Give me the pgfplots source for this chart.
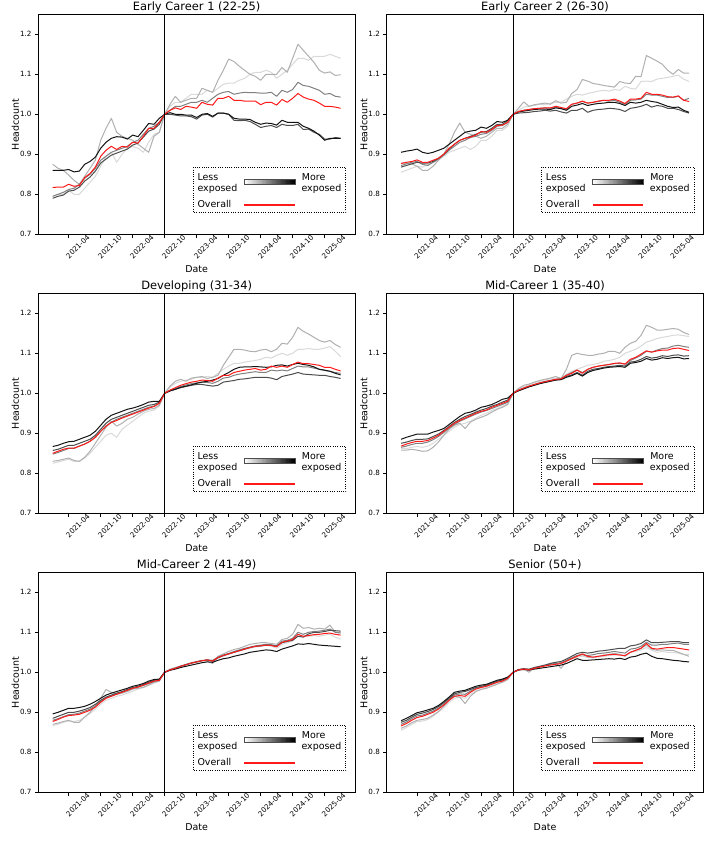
\documentclass[border=0pt]{standalone}
\usepackage{pgfplots}
\usepackage{pgfplotstable}
\pgfplotsset{compat=1.18}
\usepackage{fontspec}
\setmainfont{DejaVu Sans}
\definecolor{qa}{HTML}{D9D9D9}
\definecolor{qb}{HTML}{B0B0B0}
\definecolor{qc}{HTML}{808080}
\definecolor{qd}{HTML}{4D4D4D}
\definecolor{qe}{HTML}{141414}
\definecolor{ov}{HTML}{FF1A1A}

\pgfplotstableread{
i a b c d e r
0 0.795 0.875 0.795 0.790 0.860 0.817
1 0.800 0.865 0.800 0.795 0.860 0.818
2 0.800 0.860 0.805 0.798 0.860 0.818
3 0.810 0.848 0.812 0.808 0.862 0.825
4 0.800 0.835 0.815 0.810 0.856 0.820
5 0.800 0.825 0.825 0.818 0.858 0.822
6 0.815 0.845 0.840 0.833 0.875 0.842
7 0.830 0.865 0.850 0.843 0.882 0.852
8 0.845 0.885 0.865 0.858 0.893 0.868
9 0.870 0.935 0.885 0.878 0.915 0.895
10 0.895 0.965 0.895 0.888 0.930 0.910
11 0.905 0.990 0.905 0.898 0.940 0.920
12 0.880 0.955 0.910 0.903 0.944 0.912
13 0.900 0.945 0.915 0.908 0.943 0.920
14 0.915 0.940 0.920 0.913 0.938 0.918
15 0.920 0.935 0.930 0.923 0.948 0.930
16 0.915 0.925 0.935 0.928 0.944 0.928
17 0.905 0.915 0.950 0.943 0.960 0.945
18 0.930 0.905 0.965 0.958 0.977 0.965
19 0.950 0.945 0.970 0.963 0.975 0.965
20 0.955 0.955 0.980 0.975 0.990 0.980
21 1 1 1 1 1 1
22 1.020 1.025 1.010 1.000 1.004 1.010
23 1.030 1.045 1.020 0.998 1.000 1.016
24 1.030 1.030 1.020 0.996 1.000 1.012
25 1.040 1.035 1.025 0.996 0.998 1.020
26 1.050 1.040 1.030 0.994 0.998 1.018
27 1.050 1.040 1.030 0.988 0.992 1.015
28 1.050 1.065 1.035 0.998 1.000 1.030
29 1.060 1.060 1.030 1.000 1.002 1.025
30 1.055 1.055 1.040 0.993 0.995 1.023
31 1.065 1.085 1.050 1.003 1.003 1.040
32 1.075 1.110 1.055 1.003 1.003 1.040
33 1.078 1.138 1.057 1.000 1.000 1.045
34 1.078 1.132 1.050 0.985 0.990 1.035
35 1.085 1.120 1.053 0.984 0.988 1.035
36 1.090 1.110 1.055 0.985 0.988 1.033
37 1.100 1.100 1.054 0.982 0.987 1.033
38 1.105 1.095 1.054 0.975 0.980 1.033
39 1.105 1.085 1.053 0.967 0.975 1.024
40 1.110 1.100 1.053 0.970 0.978 1.030
41 1.105 1.100 1.055 0.972 0.977 1.030
42 1.090 1.100 1.045 0.967 0.973 1.023
43 1.100 1.117 1.060 0.975 0.985 1.037
44 1.110 1.105 1.055 0.972 0.980 1.030
45 1.125 1.140 1.062 0.972 0.980 1.040
46 1.140 1.175 1.080 0.975 0.980 1.052
47 1.140 1.160 1.072 0.962 0.970 1.043
48 1.135 1.145 1.070 0.963 0.965 1.038
49 1.145 1.130 1.065 0.955 0.958 1.035
50 1.145 1.110 1.060 0.950 0.948 1.028
51 1.145 1.103 1.050 0.938 0.935 1.020
52 1.150 1.106 1.052 0.938 0.940 1.020
53 1.145 1.097 1.045 0.942 0.940 1.018
54 1.140 1.099 1.043 0.940 0.940 1.015
}\tA

\pgfplotstableread{
i a b c d e r
0 0.855 0.878 0.872 0.868 0.905 0.877
1 0.860 0.878 0.876 0.872 0.908 0.880
2 0.865 0.876 0.880 0.876 0.910 0.882
3 0.870 0.870 0.882 0.880 0.913 0.886
4 0.868 0.860 0.875 0.878 0.905 0.880
5 0.875 0.860 0.872 0.878 0.902 0.880
6 0.880 0.870 0.880 0.882 0.905 0.885
7 0.885 0.885 0.888 0.890 0.910 0.890
8 0.895 0.900 0.898 0.900 0.915 0.900
9 0.905 0.925 0.910 0.913 0.925 0.915
10 0.910 0.955 0.920 0.925 0.935 0.925
11 0.915 0.978 0.930 0.935 0.945 0.935
12 0.920 0.955 0.935 0.940 0.955 0.940
13 0.912 0.950 0.942 0.945 0.958 0.943
14 0.920 0.945 0.945 0.950 0.960 0.948
15 0.935 0.940 0.950 0.955 0.968 0.957
16 0.935 0.945 0.952 0.957 0.965 0.955
17 0.945 0.955 0.960 0.965 0.972 0.962
18 0.960 0.965 0.970 0.975 0.982 0.972
19 0.960 0.965 0.972 0.975 0.980 0.973
20 0.970 0.975 0.980 0.985 0.985 0.980
21 1 1 1 1 1 1
22 1.010 1.015 1.006 1.003 1.006 1.007
23 1.018 1.031 1.010 1.004 1.008 1.010
24 1.020 1.020 1.012 1.005 1.010 1.012
25 1.022 1.024 1.014 1.007 1.012 1.014
26 1.025 1.026 1.015 1.008 1.013 1.015
27 1.024 1.028 1.016 1.010 1.013 1.016
28 1.028 1.025 1.015 1.008 1.012 1.016
29 1.030 1.034 1.018 1.010 1.016 1.020
30 1.030 1.028 1.015 1.006 1.014 1.017
31 1.038 1.030 1.012 1.003 1.010 1.014
32 1.045 1.052 1.025 1.010 1.020 1.025
33 1.050 1.062 1.028 1.010 1.023 1.028
34 1.048 1.087 1.032 1.015 1.027 1.033
35 1.052 1.083 1.028 1.005 1.022 1.028
36 1.055 1.077 1.030 1.010 1.025 1.030
37 1.058 1.075 1.032 1.012 1.027 1.033
38 1.060 1.072 1.035 1.013 1.028 1.035
39 1.058 1.070 1.033 1.015 1.030 1.035
40 1.062 1.068 1.035 1.014 1.030 1.038
41 1.060 1.082 1.030 1.012 1.027 1.033
42 1.070 1.078 1.025 1.007 1.022 1.027
43 1.065 1.077 1.035 1.015 1.030 1.038
44 1.063 1.095 1.036 1.017 1.028 1.038
45 1.082 1.094 1.038 1.020 1.030 1.040
46 1.083 1.147 1.050 1.025 1.035 1.055
47 1.082 1.140 1.048 1.018 1.032 1.050
48 1.088 1.133 1.048 1.022 1.030 1.050
49 1.090 1.125 1.045 1.020 1.025 1.048
50 1.092 1.110 1.042 1.015 1.020 1.044
51 1.095 1.100 1.042 1.015 1.017 1.043
52 1.098 1.112 1.045 1.012 1.018 1.046
53 1.088 1.103 1.035 1.007 1.010 1.035
54 1.082 1.103 1.040 1.003 1.005 1.032
}\tB

\pgfplotstableread{
i a b c d e r
0 0.825 0.830 0.848 0.857 0.867 0.850
1 0.828 0.832 0.852 0.860 0.870 0.855
2 0.832 0.835 0.857 0.865 0.875 0.860
3 0.835 0.838 0.862 0.870 0.879 0.863
4 0.830 0.832 0.862 0.870 0.880 0.863
5 0.830 0.830 0.868 0.875 0.885 0.868
6 0.838 0.840 0.873 0.880 0.890 0.873
7 0.850 0.855 0.880 0.885 0.895 0.880
8 0.865 0.875 0.890 0.895 0.905 0.890
9 0.880 0.895 0.905 0.910 0.920 0.905
10 0.895 0.915 0.918 0.925 0.935 0.918
11 0.900 0.930 0.928 0.935 0.945 0.927
12 0.890 0.918 0.935 0.940 0.950 0.932
13 0.910 0.925 0.940 0.945 0.955 0.938
14 0.920 0.935 0.945 0.950 0.960 0.943
15 0.930 0.940 0.950 0.955 0.963 0.948
16 0.940 0.948 0.955 0.960 0.967 0.953
17 0.950 0.955 0.960 0.965 0.972 0.958
18 0.955 0.960 0.965 0.970 0.978 0.963
19 0.958 0.962 0.968 0.972 0.980 0.967
20 0.968 0.970 0.975 0.978 0.980 0.975
21 1 1 1 1 1 1
22 1.015 1.018 1.007 1.006 1.006 1.008
23 1.025 1.030 1.012 1.010 1.010 1.014
24 1.030 1.035 1.017 1.014 1.015 1.020
25 1.033 1.030 1.021 1.017 1.018 1.024
26 1.035 1.038 1.024 1.020 1.021 1.028
27 1.040 1.040 1.026 1.022 1.025 1.030
28 1.040 1.042 1.028 1.022 1.028 1.033
29 1.042 1.037 1.027 1.020 1.030 1.032
30 1.040 1.040 1.025 1.018 1.033 1.030
31 1.050 1.045 1.030 1.020 1.037 1.038
32 1.060 1.070 1.038 1.028 1.045 1.045
33 1.068 1.090 1.040 1.030 1.052 1.045
34 1.075 1.110 1.045 1.032 1.060 1.052
35 1.075 1.110 1.048 1.035 1.065 1.055
36 1.078 1.108 1.050 1.036 1.066 1.058
37 1.080 1.105 1.052 1.038 1.066 1.060
38 1.082 1.104 1.054 1.040 1.067 1.062
39 1.085 1.108 1.052 1.040 1.066 1.058
40 1.090 1.110 1.052 1.040 1.065 1.060
41 1.088 1.104 1.058 1.038 1.066 1.068
42 1.095 1.110 1.056 1.034 1.070 1.065
43 1.100 1.125 1.058 1.042 1.071 1.068
44 1.095 1.123 1.056 1.045 1.068 1.065
45 1.100 1.140 1.062 1.048 1.072 1.072
46 1.110 1.165 1.068 1.052 1.075 1.078
47 1.110 1.155 1.066 1.048 1.072 1.074
48 1.112 1.148 1.066 1.047 1.070 1.074
49 1.110 1.140 1.063 1.046 1.066 1.072
50 1.110 1.132 1.060 1.045 1.060 1.070
51 1.113 1.128 1.057 1.045 1.058 1.065
52 1.117 1.132 1.055 1.042 1.055 1.065
53 1.105 1.122 1.052 1.040 1.050 1.060
54 1.092 1.115 1.050 1.037 1.046 1.056
}\tC

\pgfplotstableread{
i a b c d e r
0 0.862 0.858 0.865 0.875 0.885 0.868
1 0.862 0.858 0.868 0.878 0.890 0.873
2 0.865 0.860 0.872 0.882 0.894 0.877
3 0.867 0.858 0.875 0.885 0.898 0.880
4 0.865 0.855 0.875 0.885 0.898 0.880
5 0.868 0.856 0.878 0.886 0.898 0.882
6 0.875 0.865 0.884 0.892 0.903 0.888
7 0.885 0.878 0.892 0.898 0.907 0.895
8 0.895 0.895 0.902 0.907 0.912 0.905
9 0.905 0.910 0.913 0.917 0.922 0.915
10 0.915 0.920 0.922 0.927 0.932 0.925
11 0.922 0.925 0.930 0.935 0.942 0.932
12 0.925 0.912 0.936 0.942 0.950 0.938
13 0.930 0.928 0.942 0.947 0.953 0.944
14 0.938 0.935 0.948 0.953 0.958 0.950
15 0.945 0.940 0.953 0.958 0.965 0.955
16 0.950 0.945 0.957 0.962 0.968 0.958
17 0.957 0.953 0.962 0.968 0.972 0.965
18 0.962 0.960 0.967 0.972 0.978 0.970
19 0.967 0.965 0.972 0.978 0.985 0.975
20 0.975 0.972 0.978 0.983 0.988 0.980
21 1 1 1 1 1 1
22 1.010 1.012 1.008 1.007 1.006 1.008
23 1.017 1.020 1.013 1.012 1.011 1.013
24 1.022 1.023 1.018 1.017 1.016 1.018
25 1.026 1.028 1.022 1.021 1.020 1.022
26 1.030 1.032 1.026 1.025 1.024 1.026
27 1.034 1.035 1.030 1.028 1.027 1.029
28 1.036 1.038 1.032 1.031 1.030 1.032
29 1.038 1.042 1.035 1.034 1.033 1.035
30 1.038 1.037 1.036 1.035 1.034 1.036
31 1.048 1.060 1.045 1.042 1.040 1.045
32 1.055 1.095 1.052 1.046 1.044 1.050
33 1.060 1.100 1.058 1.052 1.050 1.058
34 1.065 1.097 1.052 1.045 1.043 1.050
35 1.070 1.095 1.060 1.055 1.052 1.060
36 1.072 1.095 1.065 1.060 1.057 1.065
37 1.075 1.098 1.068 1.062 1.060 1.068
38 1.080 1.100 1.070 1.065 1.063 1.070
39 1.082 1.105 1.072 1.067 1.065 1.072
40 1.085 1.105 1.074 1.068 1.066 1.075
41 1.090 1.100 1.075 1.070 1.067 1.076
42 1.100 1.115 1.073 1.068 1.065 1.073
43 1.105 1.125 1.082 1.078 1.075 1.085
44 1.110 1.130 1.088 1.080 1.077 1.090
45 1.118 1.145 1.095 1.085 1.080 1.098
46 1.128 1.170 1.105 1.092 1.087 1.106
47 1.132 1.165 1.103 1.088 1.083 1.103
48 1.137 1.158 1.108 1.090 1.085 1.106
49 1.140 1.158 1.112 1.094 1.089 1.108
50 1.142 1.160 1.113 1.092 1.087 1.108
51 1.145 1.162 1.118 1.095 1.089 1.112
52 1.146 1.160 1.120 1.096 1.090 1.113
53 1.144 1.152 1.117 1.093 1.086 1.110
54 1.142 1.147 1.115 1.094 1.087 1.107
}\tD

\pgfplotstableread{
i a b c d e r
0 0.867 0.870 0.880 0.885 0.896 0.877
1 0.870 0.873 0.884 0.890 0.900 0.882
2 0.875 0.877 0.889 0.895 0.905 0.888
3 0.878 0.880 0.894 0.900 0.910 0.892
4 0.877 0.875 0.895 0.900 0.910 0.893
5 0.880 0.875 0.898 0.903 0.912 0.895
6 0.888 0.888 0.903 0.907 0.915 0.900
7 0.897 0.900 0.908 0.912 0.920 0.905
8 0.908 0.915 0.916 0.920 0.927 0.913
9 0.920 0.935 0.927 0.930 0.935 0.925
10 0.930 0.957 0.936 0.938 0.943 0.935
11 0.935 0.950 0.941 0.943 0.948 0.940
12 0.940 0.945 0.946 0.948 0.952 0.945
13 0.943 0.948 0.950 0.952 0.956 0.950
14 0.948 0.952 0.955 0.957 0.960 0.955
15 0.953 0.958 0.960 0.962 0.965 0.960
16 0.958 0.960 0.963 0.965 0.968 0.963
17 0.963 0.962 0.967 0.970 0.972 0.968
18 0.968 0.968 0.972 0.975 0.978 0.973
19 0.973 0.975 0.977 0.980 0.982 0.978
20 0.978 0.978 0.980 0.982 0.983 0.980
21 1 1 1 1 1 1
22 1.007 1.008 1.006 1.006 1.005 1.006
23 1.011 1.012 1.010 1.010 1.008 1.010
24 1.015 1.016 1.015 1.015 1.012 1.015
25 1.019 1.020 1.019 1.019 1.015 1.019
26 1.022 1.024 1.023 1.023 1.018 1.023
27 1.025 1.027 1.026 1.026 1.021 1.026
28 1.028 1.030 1.029 1.029 1.024 1.029
29 1.030 1.028 1.031 1.031 1.026 1.031
30 1.027 1.022 1.030 1.028 1.025 1.028
31 1.036 1.040 1.038 1.036 1.030 1.037
32 1.040 1.046 1.043 1.042 1.034 1.042
33 1.045 1.052 1.047 1.046 1.036 1.046
34 1.050 1.057 1.052 1.050 1.040 1.050
35 1.053 1.060 1.056 1.054 1.043 1.054
36 1.057 1.065 1.060 1.058 1.046 1.058
37 1.060 1.070 1.063 1.062 1.050 1.062
38 1.063 1.072 1.066 1.065 1.052 1.065
39 1.065 1.074 1.068 1.066 1.054 1.066
40 1.067 1.074 1.070 1.068 1.056 1.068
41 1.066 1.072 1.069 1.067 1.055 1.067
42 1.060 1.070 1.066 1.065 1.052 1.064
43 1.070 1.082 1.078 1.074 1.058 1.075
44 1.074 1.085 1.080 1.077 1.062 1.078
45 1.078 1.095 1.085 1.080 1.066 1.082
46 1.092 1.120 1.100 1.090 1.071 1.095
47 1.088 1.110 1.095 1.088 1.070 1.090
48 1.090 1.112 1.100 1.096 1.072 1.092
49 1.092 1.108 1.102 1.100 1.070 1.094
50 1.090 1.110 1.103 1.100 1.068 1.095
51 1.093 1.108 1.105 1.102 1.067 1.097
52 1.095 1.118 1.108 1.105 1.066 1.098
53 1.088 1.100 1.100 1.104 1.065 1.095
54 1.083 1.100 1.098 1.103 1.064 1.093
}\tE

\pgfplotstableread{
i a b c d e r
0 0.855 0.860 0.870 0.875 0.879 0.866
1 0.862 0.866 0.876 0.880 0.885 0.872
2 0.870 0.874 0.884 0.888 0.892 0.880
3 0.877 0.880 0.891 0.895 0.899 0.887
4 0.878 0.882 0.893 0.898 0.902 0.890
5 0.882 0.885 0.898 0.902 0.906 0.895
6 0.890 0.893 0.903 0.907 0.910 0.900
7 0.900 0.902 0.910 0.914 0.917 0.908
8 0.912 0.915 0.920 0.924 0.927 0.918
9 0.925 0.930 0.932 0.935 0.938 0.930
10 0.935 0.940 0.943 0.946 0.950 0.940
11 0.938 0.938 0.946 0.950 0.953 0.942
12 0.935 0.922 0.945 0.952 0.955 0.940
13 0.945 0.940 0.953 0.957 0.960 0.950
14 0.953 0.952 0.960 0.962 0.965 0.958
15 0.958 0.957 0.963 0.965 0.968 0.962
16 0.962 0.960 0.966 0.968 0.970 0.965
17 0.967 0.965 0.971 0.973 0.975 0.970
18 0.972 0.970 0.976 0.978 0.980 0.975
19 0.976 0.975 0.980 0.981 0.983 0.978
20 0.982 0.982 0.985 0.986 0.988 0.985
21 1 1 1 1 1 1
22 1.005 1.005 1.006 1.007 1.006 1.006
23 1.007 1.008 1.009 1.009 1.007 1.008
24 1.004 1.000 1.005 1.008 1.006 1.006
25 1.010 1.012 1.010 1.012 1.008 1.010
26 1.014 1.015 1.013 1.015 1.010 1.013
27 1.017 1.018 1.017 1.018 1.012 1.016
28 1.020 1.022 1.020 1.022 1.014 1.018
29 1.023 1.025 1.022 1.025 1.016 1.020
30 1.022 1.010 1.024 1.027 1.018 1.022
31 1.028 1.028 1.030 1.033 1.022 1.028
32 1.033 1.035 1.036 1.040 1.028 1.034
33 1.038 1.042 1.042 1.047 1.034 1.040
34 1.040 1.045 1.044 1.050 1.030 1.046
35 1.037 1.038 1.042 1.048 1.030 1.040
36 1.036 1.037 1.044 1.050 1.031 1.038
37 1.038 1.040 1.047 1.053 1.032 1.040
38 1.040 1.043 1.048 1.054 1.033 1.042
39 1.042 1.045 1.050 1.056 1.034 1.044
40 1.043 1.047 1.052 1.058 1.033 1.045
41 1.045 1.045 1.050 1.060 1.035 1.043
42 1.040 1.040 1.048 1.060 1.032 1.042
43 1.050 1.050 1.058 1.066 1.038 1.050
44 1.052 1.055 1.060 1.068 1.040 1.055
45 1.056 1.060 1.065 1.072 1.045 1.060
46 1.062 1.068 1.075 1.081 1.048 1.072
47 1.055 1.058 1.068 1.074 1.040 1.060
48 1.050 1.055 1.068 1.074 1.035 1.058
49 1.052 1.056 1.070 1.075 1.034 1.060
50 1.050 1.055 1.070 1.076 1.032 1.062
51 1.050 1.055 1.072 1.077 1.030 1.062
52 1.048 1.050 1.073 1.077 1.029 1.060
53 1.044 1.045 1.070 1.074 1.027 1.058
54 1.045 1.040 1.070 1.074 1.026 1.056
}\tF

\pgfplotsset{
  panel/.style={
    scale only axis, width=316.7bp, height=220bp, anchor=south west,
    xmin=-2.7, xmax=56.7, ymin=0.7, ymax=1.25,
    xtick={3,9,15,21,27,33,39,45,51},
    xticklabels={2021-04,2021-10,2022-04,2022-10,2023-04,2023-10,2024-04,2024-10,2025-04},
    ytick={0.7,0.8,0.9,1.0,1.1,1.2},
    yticklabels={0.7,0.8,0.9,1.0,1.1,1.2},
    tick align=outside, tick pos=left, major tick length=3.3bp,
    axis line style={line width=0.8bp, black},
    every tick/.style={black, line width=0.8bp},
    ticklabel style={font=\fontsize{7.2}{8}\selectfont},
    xticklabel style={rotate=45, anchor=center, yshift=-12.9bp},
    xlabel={Date}, ylabel={Headcount},
    label style={font=\fontsize{9.5}{11}\selectfont},
    xlabel style={at={(axis description cs:0.5,0)}, anchor=base, yshift=-38.4bp},
    ylabel style={at={(axis description cs:-0.06,0.5)}, anchor=south, inner sep=0pt},
    every axis title/.style={at={(axis description cs:0.5,1)}, anchor=base, yshift=3.8bp, inner sep=0pt, font=\fontsize{11.5}{13}\selectfont},
    /pgf/number format/assume math mode=true,
    every axis plot/.append style={line width=1bp, line join=round, mark=none},
  },
}

\newcommand{\drawseries}[1]{%
  \addplot[qa] table[x=i,y=a]{#1};
  \addplot[qb] table[x=i,y=b]{#1};
  \addplot[qc] table[x=i,y=c]{#1};
  \addplot[qd] table[x=i,y=d]{#1};
  \addplot[qe] table[x=i,y=e]{#1};
  \addplot[ov] table[x=i,y=r]{#1};
  \addplot[black, line width=1bp] coordinates {(21,0.7) (21,1.25)};
}

\newcommand{\legendbox}[2]{%
  \begin{scope}[shift={(#1bp,#2bp)}, font=\fontsize{9.5}{11}\selectfont]
    \draw[black, fill=white, line width=0.8bp, dash pattern=on 1bp off 1.3bp] (0,0) rectangle (152.4bp,-45.4bp);
    \node[anchor=base west, inner sep=0] at (4bp,-13.4bp) {Less};
    \node[anchor=base west, inner sep=0] at (4bp,-24.4bp) {exposed};
    \node[anchor=base west, inner sep=0] at (108.4bp,-13.4bp) {More};
    \node[anchor=base west, inner sep=0] at (108bp,-24.4bp) {exposed};
    \node[anchor=base west, inner sep=0] at (4bp,-40.4bp) {Overall};
    \fill[ov] (51bp,-37.1bp) rectangle (101.7bp,-38.3bp);
    \foreach \k in {0,...,39} {%
      \pgfmathsetmacro\xx{51+\k*1.2675}%
      \pgfmathsetmacro\pp{\k*100/39}%
      \fill[black!\pp] (\xx bp,-12bp) rectangle ++(1.35bp,-5bp);
    }
    \draw[qd, line width=0.7bp] (51bp,-12bp) rectangle (101.7bp,-17bp);
  \end{scope}
}

\begin{document}
\begin{tikzpicture}
\useasboundingbox (0,0) rectangle (715bp,843bp);

\begin{axis}[panel, at={(38.3bp,608.7bp)}, title={Early Career 1 (22-25)}]
\drawseries{\tA}
\end{axis}
\legendbox{193.3}{675.7}

\begin{axis}[panel, at={(386.7bp,608.7bp)}, title={Early Career 2 (26-30)}]
\drawseries{\tB}
\end{axis}
\legendbox{541.7}{675.7}

\begin{axis}[panel, at={(38.3bp,329.7bp)}, title={Developing (31-34)}]
\drawseries{\tC}
\end{axis}
\legendbox{193.3}{396.7}

\begin{axis}[panel, at={(386.7bp,329.7bp)}, title={Mid-Career 1 (35-40)}]
\drawseries{\tD}
\end{axis}
\legendbox{541.7}{396.7}

\begin{axis}[panel, at={(38.3bp,50.7bp)}, title={Mid-Career 2 (41-49)}]
\drawseries{\tE}
\end{axis}
\legendbox{193.3}{117.7}

\begin{axis}[panel, at={(386.7bp,50.7bp)}, title={Senior (50+)}]
\drawseries{\tF}
\end{axis}
\legendbox{541.7}{117.7}

\end{tikzpicture}
\end{document}
